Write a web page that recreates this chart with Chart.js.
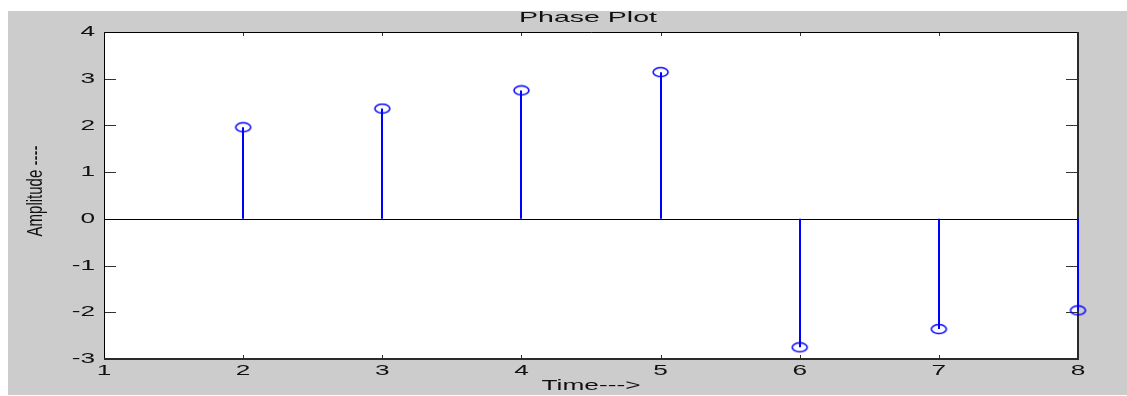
<!DOCTYPE html>
<html>
<head>
    <title>Phase Plot</title>
    <script src="https://cdn.jsdelivr.net/npm/chart.js"></script>
    <style>
        html, body {
            margin: 0;
            padding: 0;
            background: #ffffff;
        }
        #wrap {
            width: 1127px;
            height: 396px;
        }
    </style>
</head>
<body>
    <div id="wrap"><canvas id="myChart" width="1127" height="396"></canvas></div>

    <script>
        // data
        const categories = [2, 3, 4, 5, 6, 7, 8];
        const phaseValues = [1.96, 2.36, 2.75, 3.14, -2.75, -2.36, -1.96];
        const xTicks = [1, 2, 3, 4, 5, 6, 7, 8];
        const yTicks = [-3, -2, -1, 0, 1, 2, 3, 4];
        const titleText = 'Phase Plot';
        const xTitle = 'Time--->';
        const yTitle = 'Amplitude ----';

        const STRETCH = 1.75;   // the picture is stretched sideways
        const FONT = 'Liberation Sans, Arial, sans-serif';

        // open ellipse marker like matlab's 'o'
        function makeMarker() {
            const c = document.createElement('canvas');
            c.width = 19;
            c.height = 12;
            const g = c.getContext('2d');
            g.strokeStyle = '#0000ff';
            g.lineWidth = 1.5;
            g.beginPath();
            g.ellipse(9.5, 6, 7.5, 4.5, 0, 0, Math.PI * 2);
            g.stroke();
            return c;
        }

        function wideText(ctx, text, x, y, align, sx) {
            ctx.save();
            ctx.translate(x, y);
            ctx.scale(sx, 1);
            ctx.textAlign = align;
            ctx.fillText(text, 0, 0);
            ctx.restore();
        }

        const matlabLook = {
            id: 'matlabLook',
            beforeDraw(chart) {
                const ctx = chart.ctx;
                ctx.save();
                ctx.fillStyle = '#ffffff';
                ctx.fillRect(0, 0, chart.width, chart.height);
                ctx.fillStyle = '#cccccc';
                ctx.fillRect(8, 11, chart.width - 8, chart.height - 12);
                const a = chart.chartArea;
                ctx.fillStyle = '#ffffff';
                ctx.fillRect(a.left, a.top, a.right - a.left, a.bottom - a.top);
                ctx.restore();
            },
            beforeDatasetsDraw(chart) {
                const ctx = chart.ctx;
                const xs = chart.scales.x;
                const ys = chart.scales.y;
                const a = chart.chartArea;
                const y0 = ys.getPixelForValue(0);
                ctx.save();
                // ticks, inward on all four sides
                ctx.strokeStyle = '#333333';
                ctx.lineWidth = 1;
                ctx.beginPath();
                yTicks.forEach(v => {
                    const py = Math.round(ys.getPixelForValue(v)) + 0.5;
                    ctx.moveTo(a.left, py);
                    ctx.lineTo(a.left + 12, py);
                    ctx.moveTo(a.right, py);
                    ctx.lineTo(a.right - 12, py);
                });
                xTicks.forEach(v => {
                    const px = Math.round(xs.getPixelForValue(v)) + 0.5;
                    ctx.moveTo(px, a.top);
                    ctx.lineTo(px, a.top + 4);
                    ctx.moveTo(px, a.bottom);
                    ctx.lineTo(px, a.bottom - 4);
                });
                ctx.stroke();
                // box
                ctx.strokeStyle = '#000000';
                ctx.beginPath();
                ctx.moveTo(a.left + 0.5, a.bottom);
                ctx.lineTo(a.left + 0.5, a.top + 0.5);
                ctx.lineTo(a.right, a.top + 0.5);
                ctx.stroke();
                ctx.strokeStyle = '#2a2a2a';
                ctx.lineWidth = 2;
                ctx.beginPath();
                ctx.moveTo(a.right, a.top);
                ctx.lineTo(a.right, a.bottom);
                ctx.lineTo(a.left, a.bottom);
                ctx.stroke();
                // baseline
                ctx.strokeStyle = '#000000';
                ctx.lineWidth = 1;
                ctx.beginPath();
                ctx.moveTo(a.left, Math.round(y0) + 0.5);
                ctx.lineTo(a.right, Math.round(y0) + 0.5);
                ctx.stroke();
                // stems
                ctx.strokeStyle = '#0000ff';
                ctx.lineWidth = 2;
                categories.forEach((c, i) => {
                    const px = Math.round(xs.getPixelForValue(c));
                    ctx.beginPath();
                    ctx.moveTo(px, y0);
                    ctx.lineTo(px, ys.getPixelForValue(phaseValues[i]));
                    ctx.stroke();
                });
                ctx.restore();
            },
            afterDatasetsDraw(chart) {
                const ctx = chart.ctx;
                const xs = chart.scales.x;
                const ys = chart.scales.y;
                const a = chart.chartArea;
                ctx.save();
                // labels
                ctx.fillStyle = '#111111';
                ctx.font = '15px ' + FONT;
                ctx.textBaseline = 'middle';
                yTicks.forEach(v => {
                    wideText(ctx, String(v), 95, ys.getPixelForValue(v), 'right', STRETCH);
                });
                xTicks.forEach(v => {
                    wideText(ctx, String(v), xs.getPixelForValue(v), 371, 'center', STRETCH);
                });
                wideText(ctx, titleText, (a.left + a.right) / 2 - 3, 18, 'center', 1.9);
                wideText(ctx, xTitle, (a.left + a.right) / 2, 386, 'center', STRETCH);

                // y title, rotated
                ctx.save();
                ctx.translate(36, 191);
                ctx.scale(1.5, 1);
                ctx.rotate(-Math.PI / 2);
                ctx.textAlign = 'center';
                ctx.fillText(yTitle, 0, 0);
                ctx.restore();
                ctx.restore();
            }
        };

        const ctx = document.getElementById('myChart').getContext('2d');
        new Chart(ctx, {
            type: 'scatter',
            data: {
                datasets: [{
                    label: 'phase',
                    data: categories.map((c, i) => ({ x: c, y: phaseValues[i] })),
                    pointStyle: makeMarker(),
                    pointRadius: 6,
                    showLine: false,
                    clip: false
                }]
            },
            options: {
                responsive: false,
                animation: false,
                layout: {
                    padding: { left: 104, top: 32, right: 49, bottom: 37 }
                },
                plugins: {
                    legend: { display: false },
                    tooltip: { enabled: false },
                    title: { display: false }
                },
                scales: {
                    x: {
                        type: 'linear',
                        min: 1,
                        max: 8,
                        display: false
                    },
                    y: {
                        type: 'linear',
                        min: -3,
                        max: 4,
                        display: false
                    }
                }
            },
            plugins: [matlabLook]
        });
    </script>
</body>
</html>
